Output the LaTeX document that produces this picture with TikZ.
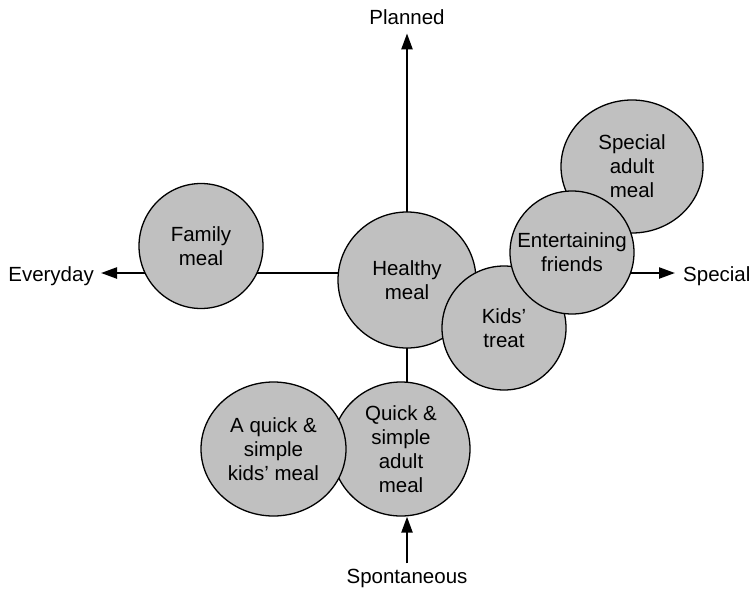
\documentclass[tikz,border=0pt]{standalone}
\usepackage{fontspec}
\setmainfont{Liberation Sans}
\usetikzlibrary{shapes.geometric,arrows.meta}
\definecolor{bubgray}{RGB}{192,192,192}
\tikzset{
  bub/.style={ellipse, draw=black, line width=1.3pt, fill=bubgray, inner sep=0pt},
  txt/.style={align=center, font=\fontsize{20.5}{24}\selectfont, inner sep=0pt},
  axlabel/.style={font=\fontsize{20.5}{24}\selectfont},
  axis/.style={line width=2.3pt},
  axarrow/.style={line width=2.3pt, -{Triangle[length=16pt,width=11pt]}}
}
\begin{document}
\begin{tikzpicture}[x=1pt,y=-1pt]
\useasboundingbox (0,0) rectangle (754,589);
% axis labels
\node[axlabel, anchor=base, inner xsep=0pt, inner ysep=9pt] (planned) at (407,24) {Planned};
\node[axlabel, anchor=base, inner xsep=0pt, inner ysep=5pt] (spont) at (407,583) {Spontaneous};
\node[axlabel, anchor=base east, inner xsep=7pt, inner ysep=0pt] (every) at (101,281) {Everyday};
\node[axlabel, anchor=base west, inner xsep=8pt, inner ysep=0pt] (special) at (675,281) {Special};
\coordinate (o) at (407,273);
\coordinate (qtop) at (407,400);
% axes (behind the bubbles)
\draw[axarrow] (o) -- (planned.south);
\draw[axarrow] (o) -- (o -| every.east);
\draw[axarrow] (o) -- (o -| special.west);
\draw[axis] (o) -- (qtop);
% bubbles, in stacking order
\node[bub, minimum width=142pt, minimum height=133pt] (spec) at (632,166.5) {};
\node[bub, minimum width=138pt, minimum height=136pt] (heal) at (407,280) {};
\node[bub, minimum width=124pt, minimum height=125pt] (fam) at (201,246) {};
\node[bub, minimum width=124pt, minimum height=124pt] (kids) at (504,328) {};
\node[bub, minimum width=124pt, minimum height=123pt] (ent) at (572,252.5) {};
\node[bub, minimum width=138pt, minimum height=134pt] (qadult) at (401,449) {};
\node[bub, minimum width=145pt, minimum height=134pt] (qkids) at (273.5,449) {};
\draw[axarrow] (spont.north) -- (spont.north |- qadult.south);
% texts
\node[txt] (tfam) at (fam) {Family\\meal};
\node[txt] (theal) at (heal) {Healthy\\meal};
\node[txt] (tkids) at (kids) {Kids’\\treat};
\node[txt] (tent) at (ent) {Entertaining\\friends};
\node[txt] (tspec) at (spec) {Special\\adult\\meal};
\node[txt] (tqadult) at (qadult) {Quick \&\\simple\\adult\\meal};
\node[txt] (tqkids) at (qkids) {A quick \&\\simple\\kids’ meal};
\end{tikzpicture}
\end{document}
